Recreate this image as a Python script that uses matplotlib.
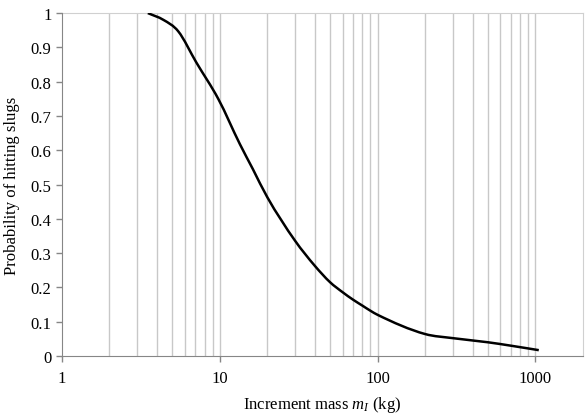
import numpy as np
import matplotlib
matplotlib.use('Agg')
import matplotlib.pyplot as plt
from matplotlib.ticker import FixedLocator
from matplotlib.path import Path
from matplotlib.patches import PathPatch

# Datos
mass = [3.5, 4.4, 5.45, 7.1, 9.8, 13.4, 16.2, 20, 30, 40, 50, 60, 70, 80, 90, 100,
        200, 300, 500, 700, 1050]
prob = [1.0, 0.98, 0.947, 0.856, 0.749, 0.618, 0.545, 0.463, 0.336, 0.263,
        0.215, 0.186, 0.164, 0.147, 0.132, 0.12, 0.064, 0.052, 0.04, 0.03, 0.017]
x_ticks = [1, 10, 100, 1000]
y_ticks = [0, 0.1, 0.2, 0.3, 0.4, 0.5, 0.6, 0.7, 0.8, 0.9, 1]
y_labels = ['0', '0.1', '0.2', '0.3', '0.4', '0.5', '0.6', '0.7', '0.8', '0.9', '1']

plt.rcParams['font.family'] = ['Liberation Serif', 'DejaVu Serif']
plt.rcParams['mathtext.fontset'] = 'custom'
plt.rcParams['mathtext.it'] = 'Liberation Serif:italic'
plt.rcParams['mathtext.rm'] = 'Liberation Serif'

fig = plt.figure(figsize=(5.88, 4.14), dpi=100)
ax = fig.add_axes([0.1054, 0.1377, 0.886, 0.8283])

ax.set_xscale('log')
ax.set_xlim(1, 2000)
ax.set_ylim(0, 1)

# Rejilla vertical (mayor y menor)
grid_x = [m * 10 ** d for d in range(3) for m in range(2, 11)]
for gx in grid_x:
    ax.axvline(gx, color='#c8c8c8', lw=1.0, zorder=1)

# Línea suavizada (Hermite cúbica en espacio log, como la línea suavizada de Excel)
lx = np.log10(mass)
py = np.array(prob)
s = np.diff(py) / np.diff(lx)
m = np.concatenate([[s[0]], (s[:-1] + s[1:]) / 2, [s[-1]]])
verts = [(lx[0], py[0])]
codes = [Path.MOVETO]
for i in range(len(lx) - 1):
    h = lx[i + 1] - lx[i]
    verts += [(lx[i] + h / 3, py[i] + m[i] * h / 3),
              (lx[i + 1] - h / 3, py[i + 1] - m[i + 1] * h / 3),
              (lx[i + 1], py[i + 1])]
    codes += [Path.CURVE4] * 3
verts = np.array(verts)
verts[:, 0] = 10 ** verts[:, 0]
ax.add_patch(PathPatch(Path(verts, codes), facecolor='none', edgecolor='black',
                       lw=1.8, zorder=3))

ax.xaxis.set_major_locator(FixedLocator(x_ticks))
ax.xaxis.set_minor_locator(FixedLocator([]))
ax.set_xticklabels([str(t) for t in x_ticks])
ax.set_yticks(y_ticks)
ax.set_yticklabels(y_labels)

ax.tick_params(axis='both', labelsize=12, color='#868686', length=4, width=1,
               direction='out')
ax.tick_params(axis='x', pad=6)

for sp in ['left', 'bottom']:
    ax.spines[sp].set_color('#868686')
    ax.spines[sp].set_zorder(4)
for sp in ['top', 'right']:
    ax.spines[sp].set_color('#d0d0d0')

ax.set_xlabel(r'Increment mass $m_I$ (kg)', fontsize=12, labelpad=6)
ax.set_ylabel('Probability of hitting slugs', fontsize=12, labelpad=8)

fig.savefig('out.png', dpi=100)
